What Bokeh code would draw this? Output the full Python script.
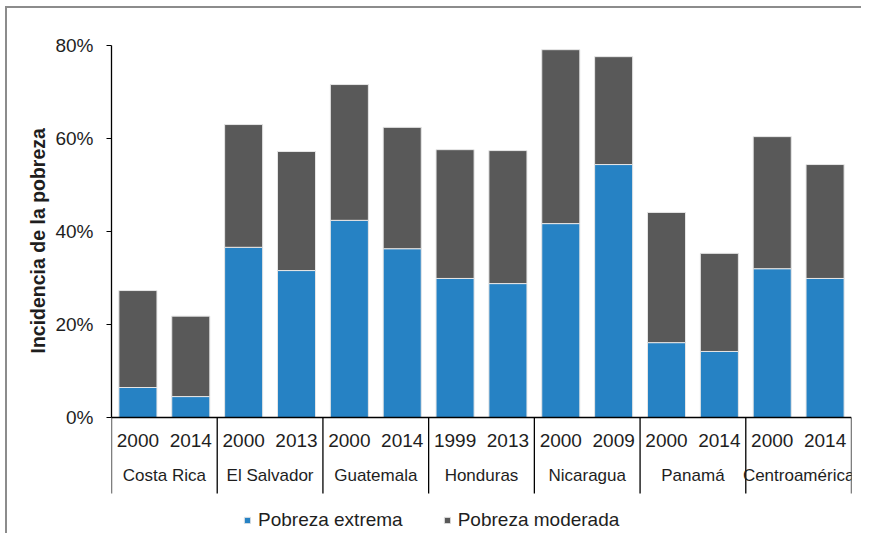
import numpy as np
from bokeh.plotting import figure
from bokeh.models import (FactorRange, ColumnDataSource, Legend, LegendItem,
                          NumeralTickFormatter, FixedTicker, Range1d, Title)
from bokeh.embed import file_html
from bokeh.resources import INLINE

countries = ["Costa Rica", "El Salvador", "Guatemala", "Honduras",
             "Nicaragua", "Panamá", "Centroamérica"]
years = [["2000", "2014"], ["2000", "2013"], ["2000", "2014"], ["1999", "2013"],
         ["2000", "2009"], ["2000", "2014"], ["2000", "2014"]]
total = [27.3, 21.8, 63.0, 57.2, 71.6, 62.4, 57.6, 57.4, 79.1, 77.6, 44.1, 35.3, 60.4, 54.4]
extrema = [6.45, 4.5, 36.6, 31.6, 42.4, 36.3, 29.9, 28.8, 41.7, 54.4, 16.1, 14.2, 32.0, 29.9]
y_ticks = [0, 0.2, 0.4, 0.6, 0.8]

factors = [(c, y) for c, ys in zip(countries, years) for y in ys]
extrema_f = [v / 100 for v in extrema]
moderada_f = [(t - e) / 100 for t, e in zip(total, extrema)]

source = ColumnDataSource(dict(x=factors, extrema=extrema_f, moderada=moderada_f))

BLUE = "#2682C4"
GREY = "#595959"
TXT = "#1e1e1e"
FONT = "Liberation Sans"

# layout: data area 372px tall for 0..0.8, frame extended below for labels + legend
DATA_H = 372
FRAME_H = 488
Y_MAX = 0.8
Y_MIN = -(FRAME_H - DATA_H) / DATA_H * Y_MAX
SEP_DEPTH = -76 / DATA_H * Y_MAX

p = figure(frame_width=740, frame_height=FRAME_H,
           x_range=FactorRange(*factors, factor_padding=0, group_padding=0, range_padding=0),
           y_range=Range1d(Y_MIN, Y_MAX),
           output_backend="svg", toolbar_location=None,
           min_border_left=104, min_border_right=10, min_border_top=37,
           min_border_bottom=0)

rs = p.vbar_stack(["extrema", "moderada"], x="x", width=0.72, source=source,
                  color=[BLUE, GREY])
for r in rs:
    r.glyph.line_color = "#e6e6e6"
    r.glyph.line_width = 1

# group separators below the category axis (at group boundaries)
bounds = np.cumsum([0] + [len(ys) for ys in years]).astype(float)
sep_src = ColumnDataSource(dict(x=bounds, y0=[0.0] * len(bounds),
                                y1=[SEP_DEPTH] * len(bounds)))
p.segment(x0="x", y0="y0", x1="x", y1="y1", source=sep_src,
          line_color="black", line_width=1.3)

p.outline_line_color = None
p.xgrid.grid_line_color = None
p.ygrid.grid_line_color = None

# y axis
p.yaxis.ticker = FixedTicker(ticks=y_ticks)
p.yaxis.bounds = (0, Y_MAX)
p.yaxis.formatter = NumeralTickFormatter(format="0%")
p.yaxis.major_label_text_font = FONT
p.yaxis.major_label_text_font_size = "19px"
p.yaxis.major_label_text_color = TXT
p.yaxis.major_label_standoff = 13
p.yaxis.axis_line_color = "black"
p.yaxis.axis_line_width = 1.3
p.yaxis.major_tick_line_color = "black"
p.yaxis.major_tick_in = 0
p.yaxis.major_tick_out = 5
p.yaxis.minor_tick_line_color = None

# y axis title, placed along the data part of the axis
ytitle = Title(text="Incidencia  de la pobreza", align="left", offset=180,
               text_font=FONT, text_font_style="bold", text_font_size="19.5px",
               text_color=TXT, standoff=8)
p.add_layout(ytitle, "left")

# x axis (drawn at y = 0)
xa = p.xaxis[0]
xa.fixed_location = 0
xa.axis_line_color = "black"
xa.axis_line_width = 1.3
xa.major_tick_line_color = None
xa.major_tick_out = 0
xa.minor_tick_line_color = None
xa.major_label_text_font = FONT
xa.major_label_text_font_size = "19px"
xa.major_label_text_color = TXT
xa.major_label_standoff = 16
xa.group_text_font = FONT
xa.group_text_font_size = "17px"
xa.group_text_font_style = "normal"
xa.group_text_color = TXT
xa.separator_line_color = None

legend = Legend(items=[LegendItem(label="Pobreza extrema", renderers=[rs[0]]),
                       LegendItem(label="Pobreza moderada", renderers=[rs[1]])],
                orientation="horizontal", location=(132, 2),
                label_text_font=FONT, label_text_font_size="19px",
                label_text_color=TXT, glyph_width=8, glyph_height=8,
                spacing=40, label_standoff=7, border_line_color=None,
                background_fill_alpha=0, padding=0, margin=0)
p.add_layout(legend)

p.styles = {"border-left": "2px solid #8c8c8c", "border-top": "2px solid #8c8c8c",
            "margin-left": "5px", "margin-top": "6px"}

open("out.html", "w").write(file_html(p, INLINE))
